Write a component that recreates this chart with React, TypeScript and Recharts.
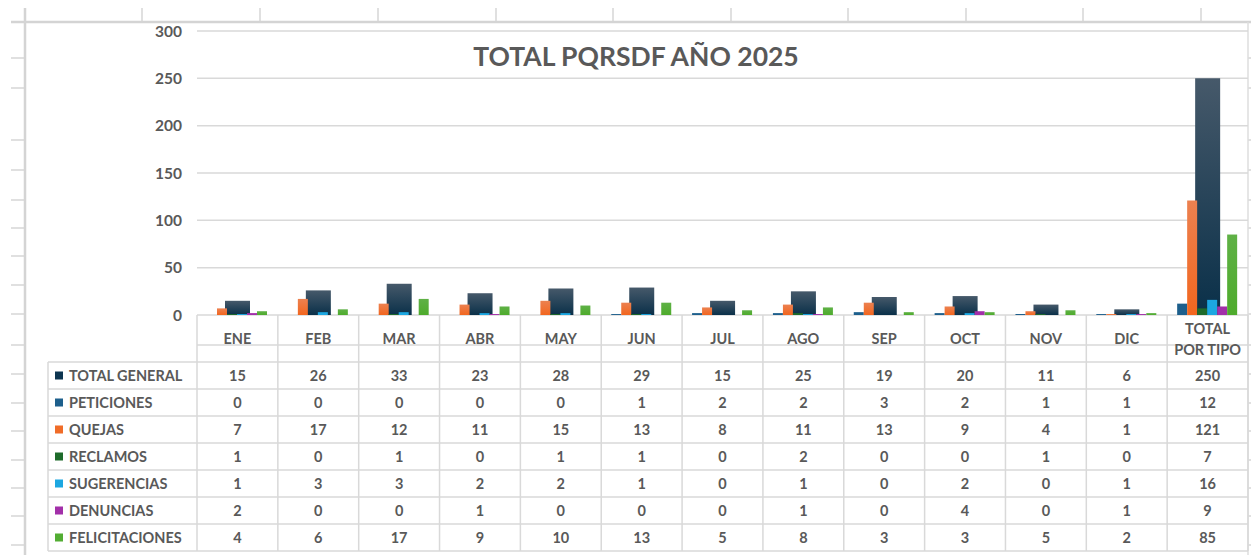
import { BarChart, Bar, XAxis, YAxis, CartesianGrid } from "recharts";

const categories = ["ENE", "FEB", "MAR", "ABR", "MAY", "JUN", "JUL", "AGO", "SEP", "OCT", "NOV", "DIC", "TOTAL POR TIPO"];
const totalGeneral = [15, 26, 33, 23, 28, 29, 15, 25, 19, 20, 11, 6, 250];
const peticiones = [0, 0, 0, 0, 0, 1, 2, 2, 3, 2, 1, 1, 12];
const quejas = [7, 17, 12, 11, 15, 13, 8, 11, 13, 9, 4, 1, 121];
const reclamos = [1, 0, 1, 0, 1, 1, 0, 2, 0, 0, 1, 0, 7];
const sugerencias = [1, 3, 3, 2, 2, 1, 0, 1, 0, 2, 0, 1, 16];
const denuncias = [2, 0, 0, 1, 0, 0, 0, 1, 0, 4, 0, 1, 9];
const felicitaciones = [4, 6, 17, 9, 10, 13, 5, 8, 3, 3, 5, 2, 85];
const yTicks = [0, 50, 100, 150, 200, 250, 300];

const seriesNames = ["TOTAL GENERAL", "PETICIONES", "QUEJAS", "RECLAMOS", "SUGERENCIAS", "DENUNCIAS", "FELICITACIONES"];
const seriesKeys = ["total", "peticiones", "quejas", "reclamos", "sugerencias", "denuncias", "felicitaciones"];
const seriesValues = [totalGeneral, peticiones, quejas, reclamos, sugerencias, denuncias, felicitaciones];

const data = categories.map((cat, i) => {
  const row: Record<string, string | number> = { cat };
  seriesKeys.forEach((k, s) => (row[k] = seriesValues[s][i]));
  return row;
});

// styles
const colors: Record<string, string> = {
  total: "#0d3550",
  peticiones: "#1d5f8c",
  quejas: "#f06c28",
  reclamos: "#1e6b2b",
  sugerencias: "#1ca7e1",
  denuncias: "#a22fa9",
  felicitaciones: "#52ad33",
};
const FONT = "Lato, 'Open Sans', sans-serif";
const TEXT = "#595959";
const LINE = "#d9d9d9";
const W = 1251;
const H = 555;
const PLOT_LEFT = 197;
const PLOT_RIGHT = 1248;
const PLOT_BOTTOM = 315;
const COL_W = (PLOT_RIGHT - PLOT_LEFT) / categories.length;
const TABLE_TOP = 362;
const ROW_H = 27;
const TABLE_BOTTOM = TABLE_TOP + ROW_H * seriesNames.length;
const TABLE_FS = 14.5;

function TableTick(props: any) {
  const { x, payload } = props;
  const i = payload.index;
  const words = String(payload.value).split(" ");
  const head = words.length > 1 ? [words[0], words.slice(1).join(" ")] : words;
  const left = x - COL_W / 2;
  const headY = head.length > 1 ? [328, 349] : [338];
  return (
    <g>
      <line x1={left} x2={left} y1={PLOT_BOTTOM} y2={TABLE_BOTTOM} stroke={LINE} strokeWidth={1.5} />
      {i === categories.length - 1 && (
        <line x1={left + COL_W} x2={left + COL_W} y1={PLOT_BOTTOM} y2={TABLE_BOTTOM} stroke={LINE} strokeWidth={1.5} />
      )}
      {head.map((t, k) => (
        <text key={k} x={x} y={headY[k]} textAnchor="middle" dominantBaseline="central"
          fill={TEXT} fontFamily={FONT} fontWeight={700} fontSize={TABLE_FS}>
          {t}
        </text>
      ))}
      {seriesValues.map((vals, r) => (
        <text key={"v" + r} x={x} y={TABLE_TOP + ROW_H * r + ROW_H / 2} textAnchor="middle"
          dominantBaseline="central" fill={TEXT} fontFamily={FONT} fontWeight={700} fontSize={TABLE_FS}>
          {vals[i]}
        </text>
      ))}
    </g>
  );
}

function Sheet() {
  const colTicks = [142, 260, 378, 496, 613, 731, 848, 966, 1083, 1201];
  const rowTicks = [58, 88, 140, 170, 200, 228, 256, 285, 314, 345, 374, 403, 431, 460, 488, 516, 545];
  return (
    <svg width={W} height={H} style={{ position: "absolute", left: 0, top: 0 }}>
      {colTicks.map((x) => (
        <line key={"c" + x} x1={x} x2={x} y1={8} y2={22} stroke="#d6d6d6" strokeWidth={1.5} />
      ))}
      {rowTicks.map((y) => (
        <line key={"r" + y} x1={11} x2={25} y1={y} y2={y} stroke="#d6d6d6" strokeWidth={1.5} />
      ))}
      {rowTicks.map((y) => (
        <line key={"rr" + y} x1={1248} x2={1251} y1={y} y2={y} stroke="#d6d6d6" strokeWidth={1.5} />
      ))}
      <line x1={25} x2={25} y1={8} y2={H} stroke="#d4d4d4" strokeWidth={2.5} />
      <line x1={11} x2={W} y1={22} y2={22} stroke="#d4d4d4" strokeWidth={2.5} />
      <line x1={1248} x2={1248} y1={22} y2={H} stroke="#dedede" strokeWidth={1.5} />
      <text x={636} y={56} textAnchor="middle" dominantBaseline="central" fill={TEXT}
        fontFamily={FONT} fontWeight={700} fontSize={26.5}>
        TOTAL PQRSDF AÑO 2025
      </text>
      <line x1={48} x2={48} y1={TABLE_TOP} y2={TABLE_BOTTOM} stroke={LINE} strokeWidth={1.5} />
      {seriesNames.map((_, r) => (
        <line key={"h" + r} x1={48} x2={PLOT_RIGHT} y1={TABLE_TOP + ROW_H * r} y2={TABLE_TOP + ROW_H * r}
          stroke={LINE} strokeWidth={1.5} />
      ))}
      <line x1={48} x2={PLOT_RIGHT} y1={TABLE_BOTTOM} y2={TABLE_BOTTOM} stroke={LINE} strokeWidth={1.5} />
      {seriesNames.map((name, r) => (
        <g key={name}>
          <rect x={55} y={TABLE_TOP + ROW_H * r + ROW_H / 2 - 4} width={8} height={8} fill={colors[seriesKeys[r]]} />
          <text x={69} y={TABLE_TOP + ROW_H * r + ROW_H / 2} dominantBaseline="central" fill={TEXT}
            fontFamily={FONT} fontWeight={700} fontSize={TABLE_FS}>
            {name}
          </text>
        </g>
      ))}
    </svg>
  );
}

export default function App() {
  return (
    <div style={{ position: "absolute", left: 0, top: 0, width: W, height: H, background: "#fff", overflow: "hidden" }}>
      <Sheet />
      <div style={{ position: "absolute", left: 0, top: 0 }}>
        <BarChart width={W} height={H} data={data} barGap={0}
          margin={{ top: 31, right: W - PLOT_RIGHT, left: 0, bottom: 0 }}>
          <defs>
            <linearGradient id="gTotal" x1="0" y1="0" x2="0" y2="1">
              <stop offset="0%" stopColor="#46596a" />
              <stop offset="100%" stopColor="#0a3049" />
            </linearGradient>
            <linearGradient id="gQuejas" x1="0" y1="0" x2="0" y2="1">
              <stop offset="0%" stopColor="#ec8150" />
              <stop offset="100%" stopColor="#f2661f" />
            </linearGradient>
            <linearGradient id="gFelic" x1="0" y1="0" x2="0" y2="1">
              <stop offset="0%" stopColor="#5fb146" />
              <stop offset="100%" stopColor="#4eab2c" />
            </linearGradient>
          </defs>
          <CartesianGrid vertical={false} stroke={LINE} strokeWidth={1.5} xAxisId="front" />
          <XAxis xAxisId="back" dataKey="cat" hide />
          <XAxis xAxisId="front" dataKey="cat" height={H - PLOT_BOTTOM} interval={0}
            tickSize={0} tickMargin={0} axisLine={{ stroke: LINE, strokeWidth: 1.5 }}
            tick={(p: any) => <TableTick {...p} />} />
          <YAxis width={PLOT_LEFT} domain={[0, 300]} ticks={yTicks} axisLine={false} tickLine={false}
            tickSize={0} tickMargin={15}
            tick={{ fill: TEXT, fontFamily: FONT, fontWeight: 700, fontSize: 15.5 }} />
          <Bar xAxisId="back" dataKey="total" fill="url(#gTotal)" barSize={25} isAnimationActive={false} />
          <Bar xAxisId="front" dataKey="peticiones" fill={colors.peticiones} barSize={10} isAnimationActive={false} />
          <Bar xAxisId="front" dataKey="quejas" fill="url(#gQuejas)" barSize={10} isAnimationActive={false} />
          <Bar xAxisId="front" dataKey="reclamos" fill={colors.reclamos} barSize={10} isAnimationActive={false} />
          <Bar xAxisId="front" dataKey="sugerencias" fill={colors.sugerencias} barSize={10} isAnimationActive={false} />
          <Bar xAxisId="front" dataKey="denuncias" fill={colors.denuncias} barSize={10} isAnimationActive={false} />
          <Bar xAxisId="front" dataKey="felicitaciones" fill="url(#gFelic)" barSize={10} isAnimationActive={false} />
        </BarChart>
      </div>
    </div>
  );
}
